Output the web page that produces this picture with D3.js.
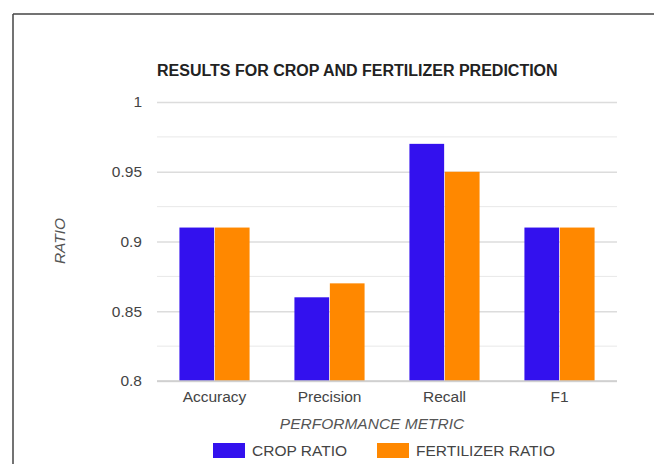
<!DOCTYPE html>
<html>
<head>
<meta charset="utf-8">
<script src="https://cdn.jsdelivr.net/npm/d3@7"></script>
<style>
  html, body { margin: 0; padding: 0; background: #fff; }
  svg { display: block; font-family: "Liberation Sans", Arial, sans-serif; }
</style>
</head>
<body>
<svg id="chart" width="654" height="464"></svg>
<script>
const categories = ["Accuracy", "Precision", "Recall", "F1"];
const seriesNames = ["CROP RATIO", "FERTILIZER RATIO"];
const cropRatio = [0.91, 0.86, 0.97, 0.91];
const fertilizerRatio = [0.91, 0.87, 0.95, 0.91];
const yTicks = [0.8, 0.85, 0.9, 0.95, 1];
const yTickLabels = ["0.8", "0.85", "0.9", "0.95", "1"];
const minorTicks = [0.825, 0.875, 0.925, 0.975];
const colors = ["#3311ee", "#ff8800"];

const svg = d3.select("#chart");

// frame
svg.append("line").attr("x1", 13).attr("x2", 654).attr("y1", 14).attr("y2", 14)
  .attr("stroke", "#444").attr("stroke-width", 1.5);
svg.append("line").attr("x1", 13).attr("x2", 13).attr("y1", 14).attr("y2", 464)
  .attr("stroke", "#444").attr("stroke-width", 1.5);

const x0 = d3.scaleBand().domain(categories).range([157, 617])
  .paddingInner(0.39).paddingOuter(0.195);
const x1 = d3.scaleBand().domain(seriesNames).range([0, x0.bandwidth()]).paddingInner(0.02);
const y = d3.scaleLinear().domain([0.8, 1]).range([381, 102]);

// minor grid
svg.append("g").selectAll("line").data(minorTicks).join("line")
  .attr("x1", 157).attr("x2", 617)
  .attr("y1", d => y(d)).attr("y2", d => y(d))
  .attr("stroke", "#e8e8e8").attr("stroke-width", 1);

// y axis with major gridlines
const yAxis = d3.axisLeft(y).tickValues(yTicks)
  .tickFormat((d, i) => yTickLabels[i]).tickSize(-(617 - 157)).tickPadding(15);
const gy = svg.append("g").attr("transform", "translate(157,0)").call(yAxis);
gy.select(".domain").remove();
gy.selectAll(".tick line").attr("stroke", "#dcdcdc").attr("stroke-width", 1.3);
gy.selectAll(".tick text").attr("fill", "#444").style("font-size", "15.5px");

// bars
const series = [cropRatio, fertilizerRatio];
const groups = svg.append("g").selectAll("g").data(categories).join("g")
  .attr("transform", d => `translate(${x0(d)},0)`);
groups.selectAll("rect")
  .data((d, i) => seriesNames.map((s, j) => ({ s, v: series[j][i], c: colors[j] })))
  .join("rect")
  .attr("x", d => x1(d.s))
  .attr("width", x1.bandwidth())
  .attr("y", d => y(d.v))
  .attr("height", d => y(0.8) - y(d.v))
  .attr("fill", d => d.c);

// baseline
svg.append("line").attr("x1", 157).attr("x2", 617).attr("y1", y(0.8)).attr("y2", y(0.8))
  .attr("stroke", "#cccccc").attr("stroke-width", 1.3);

// x axis labels
const xAxis = d3.axisBottom(x0).tickSize(0).tickPadding(10);
const gx = svg.append("g").attr("transform", `translate(0,${y(0.8)})`).call(xAxis);
gx.select(".domain").remove();
gx.selectAll(".tick text").attr("fill", "#444").style("font-size", "15.5px");

// title
svg.append("text").attr("x", 157).attr("y", 76)
  .attr("fill", "#222").style("font-size", "16px").style("font-weight", "bold")
  .text("RESULTS FOR CROP AND FERTILIZER PREDICTION");

// axis titles
svg.append("text").attr("x", 372).attr("y", 429).attr("text-anchor", "middle")
  .attr("fill", "#555").style("font-size", "15.5px").style("font-style", "italic")
  .text("PERFORMANCE METRIC");
svg.append("text").attr("transform", "translate(65,241) rotate(-90)")
  .attr("text-anchor", "middle").attr("fill", "#555")
  .style("font-size", "15.5px").style("font-style", "italic").text("RATIO");

// legend
const legendX = [213, 377];
const lg = svg.append("g").selectAll("g").data(seriesNames).join("g")
  .attr("transform", (d, i) => `translate(${legendX[i]},443)`);
lg.append("rect").attr("width", 32).attr("height", 15).attr("fill", (d, i) => colors[i]);
lg.append("text").attr("x", 39).attr("y", 13).attr("fill", "#444")
  .style("font-size", "15.5px").text(d => d);
</script>
</body>
</html>
